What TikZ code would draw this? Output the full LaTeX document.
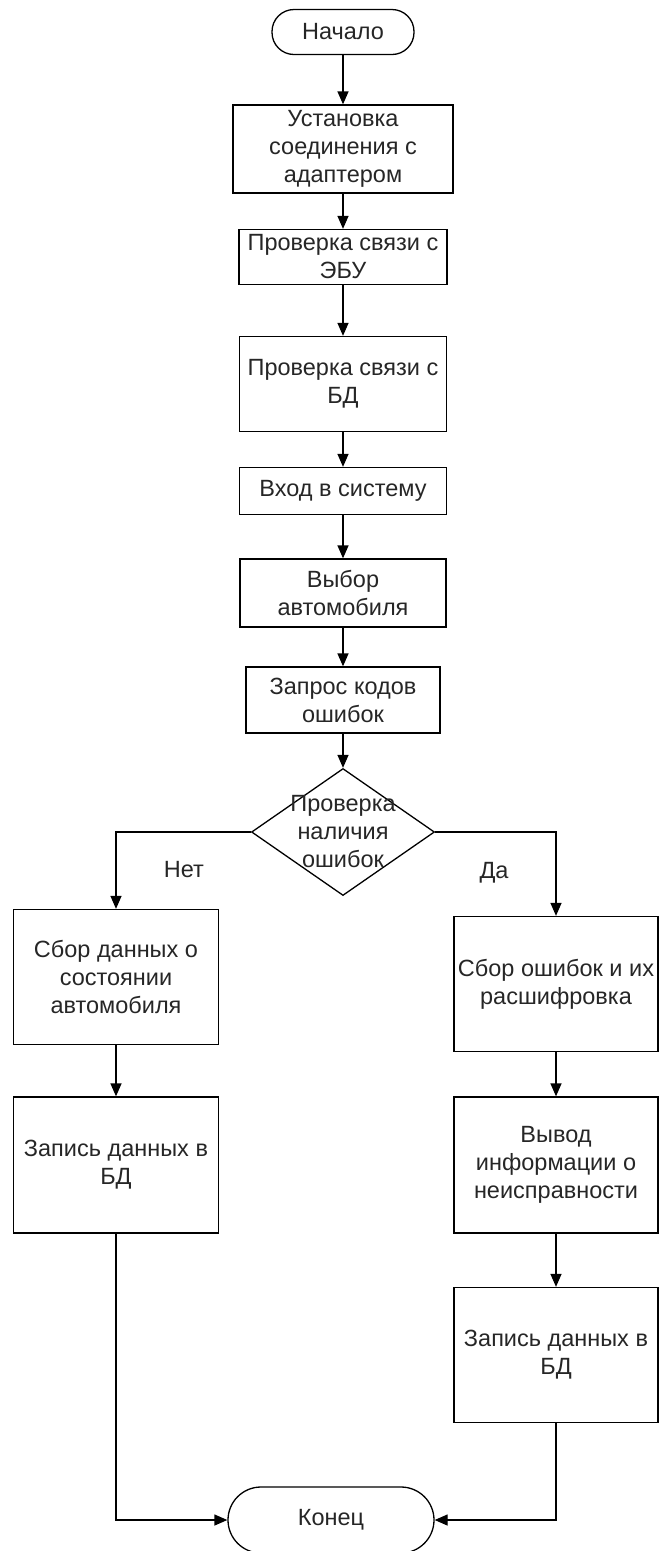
\documentclass[tikz,border=0pt]{standalone}
\usepackage{fontspec}
\setmainfont{Liberation Sans}
\usetikzlibrary{shapes,arrows.meta}
\colorlet{ink}{black!85}

\begin{document}
\begin{tikzpicture}[x=1pt,y=-1pt,
  every node/.style={font=\fontsize{23.5}{28}\selectfont, text=ink, align=center},
  box/.style={draw=black, line width=1.3pt, rectangle, inner sep=0pt},
  term/.style={draw=black, line width=1.3pt, rectangle, rounded corners=#1, inner sep=0pt},
  decision/.style={draw=black, line width=1.3pt, diamond, inner sep=0pt},
  arr/.style={line width=1.3pt, -{Triangle[length=13pt,width=11pt]}}]
\useasboundingbox (0,0) rectangle (659,1551);
% main column
\node[term=22pt, minimum width=142, minimum height=45] (start) at (343,32) {Начало};
\node[box, minimum width=220, minimum height=88] (conn) at (343,149) {Установка\\соединения с\\адаптером};
\node[box, minimum width=208, minimum height=55] (ecu) at (343,257) {Проверка связи с\\ЭБУ};
\node[box, minimum width=207, minimum height=95] (db) at (343,384) {Проверка связи с\\БД};
\node[box, minimum width=207, minimum height=47] (login) at (343,491) {Вход в систему};
\node[box, minimum width=206, minimum height=68] (car) at (343,593) {Выбор\\автомобиля};
\node[box, minimum width=194, minimum height=66] (codes) at (343,700) {Запрос кодов\\ошибок};
\node[decision, minimum width=183, minimum height=127] (check) at (343,832) {};
\node (checktext) at (check.center) {Проверка\\наличия\\ошибок};
% left branch
\node[box, minimum width=205, minimum height=135] (state) at (116,977) {Сбор данных о\\состоянии\\автомобиля};
\node[box, minimum width=205, minimum height=136] (saveL) at (116,1165) {Запись данных в\\БД};
% right branch
\node[box, minimum width=204, minimum height=135] (errors) at (556,984) {Сбор ошибок и их\\расшифровка};
\node[box, minimum width=204, minimum height=136] (info) at (556,1165) {Вывод\\информации о\\неисправности};
\node[box, minimum width=204, minimum height=135] (saveR) at (556,1355) {Запись данных в\\БД};
\node[term=33pt, minimum width=206, minimum height=66] (finish) at (331,1520) {Конец};
\node (no) at (184,870) {Нет};
\node (yes) at (494,873) {Да};
\foreach \a/\b in {start/conn,conn/ecu,ecu/db,db/login,login/car,car/codes,codes/check,state/saveL,errors/info,info/saveR}{
   \draw[arr] (\a) -- (\b);
}
\draw[arr] (check.west) -| (state.north);
\draw[arr] (check.east) -| (errors.north);
\draw[arr] (saveL.south) |- (finish.west);
\draw[arr] (saveR.south) |- (finish.east);
\end{tikzpicture}
\end{document}
